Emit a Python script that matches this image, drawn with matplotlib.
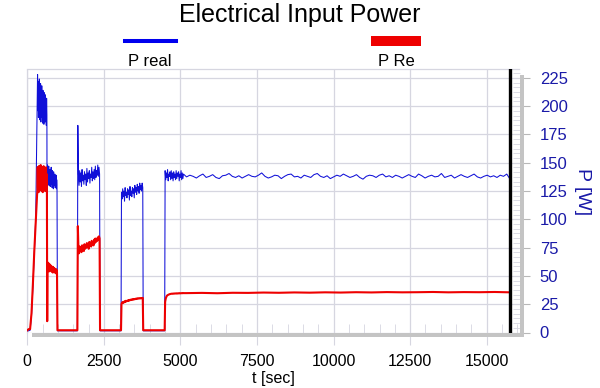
import numpy as np
import matplotlib.pyplot as plt
from matplotlib.ticker import MultipleLocator
from matplotlib.patches import Rectangle
from matplotlib.lines import Line2D

plt.rcParams['font.family'] = ['Liberation Sans', 'DejaVu Sans']

# values, one list per test phase
# P real (blue)
real_start = [1.5, 1.5, 2, 15, 40, 70, 100, 200]
real_a = [228, 196, 222, 190, 218, 200, 224, 188, 215, 195, 220, 186, 212, 198, 218, 190,
          210, 185, 214, 196, 208, 184, 212, 192, 206, 186, 210, 190, 204, 183, 207, 192]
real_b = [148, 131, 142, 134, 147, 130, 140, 136, 144, 129, 141, 133, 146, 131, 139, 128,
          143, 132, 138, 127, 142, 130, 137, 134, 140, 128, 136, 131, 139, 127, 135, 130]
real_c = [183, 140, 130, 143, 133, 141, 129, 144, 134, 139, 131, 142, 135, 140, 130, 145,
          133, 141, 136, 143, 132, 140, 137, 146, 134, 142, 136, 144, 135, 147, 137, 143,
          139, 148, 138, 146, 140]
real_d = [124, 118, 127, 120, 125, 116, 128, 121, 124, 119, 127, 122, 126, 117, 129, 121,
          125, 120, 128, 123, 127, 119, 130, 124, 128, 122, 131, 125, 129, 123, 132, 126,
          130, 125, 132, 128]
real_e = [143, 135, 141, 137, 144, 134, 140, 138, 142, 135, 143, 136, 141, 134, 142, 137,
          140, 135, 143, 136, 141, 138, 142, 134, 140, 137, 143, 135, 141, 136, 140]
real_tail = [137.5, 139, 138, 136.5, 138.5, 140, 137, 138, 139.5, 137, 136, 138.5, 139, 140.5,
             138, 137, 138.5, 136.5, 138, 139.5, 138, 137.5, 139, 141, 138, 136.5, 137.5, 139,
             138.5, 136, 138, 139.5, 140, 137.5, 138, 136.5, 139, 138, 137, 139.5, 140.5, 138,
             137, 138.5, 136, 137.5, 139, 138, 140, 138.5, 137, 138, 139.5, 137, 135.5, 138,
             139, 138.5, 137, 139, 140, 137.5, 138.5, 137, 139, 138, 136.5, 138, 139.5, 138,
             137, 140, 138.5, 136.5, 138, 139, 137.5, 138, 140.5, 137, 138, 139, 136.5, 138,
             139.5, 138, 137, 138.5, 140, 137.5, 136.5, 138, 139, 137.5, 138.5, 137, 139, 138,
             140, 135.5]
real_off = [1.5, 1.5]

# P Re (red)
re_start = [2, 3, 3, 17, 43, 72, 98, 122]
re_a = [125, 146, 128, 143, 124, 147, 130, 141, 126, 145, 129, 148, 127, 142, 125, 146, 131,
        140, 124, 144, 128, 147, 126, 141, 130, 145, 125, 143, 129, 146, 127, 140, 132]
re_b = [62, 55, 60, 57, 61, 54, 59, 56, 60, 55, 58, 57, 59, 54, 58, 55,
        57, 53, 58, 55, 56, 54, 57, 53, 56, 54, 55, 53, 56, 52, 55, 53]
re_c = [94, 74, 70, 76, 72, 75, 71, 77, 73, 76, 72, 78, 74, 77, 75, 79, 76, 78, 74,
        80, 77, 79, 76, 81, 78, 80, 77, 82, 79, 83, 80, 82, 81, 84, 82, 85, 83]
re_d = [25, 26.5, 26, 27, 26.5, 27.5, 27, 28, 27.5, 28, 27.8, 28.5, 28, 28.8, 28.5, 29,
        28.7, 29.2, 29, 29.5, 29.2, 29.6, 29.4, 29.8, 29.6, 30, 29.8, 30.2, 30, 30.3,
        30.1, 30.4, 30.2, 30.5, 30.3, 30.6]
re_e = [27, 30, 31.5, 32.5, 33, 33.3, 33.6, 33.8, 34, 34.1, 34.2, 34.3, 34.2, 34.4, 34.3,
        34.5, 34.4, 34.5, 34.6, 34.4, 34.6, 34.5, 34.7, 34.6, 34.8, 34.6, 34.7, 34.8,
        34.7, 34.9, 34.8]
re_tail = [34.8, 35.0, 34.7, 35.1, 35.0, 35.3, 35.1, 35.4, 35.2, 35.5, 35.3, 35.6, 35.4,
           35.7, 35.5, 35.6, 35.8, 35.5, 35.7, 35.6, 35.8, 35.5]
re_off = [2.0, 2.0]

dip = [10]
t_stop = 15762

# time span of each phase [sec]
real_parts = [(0, 320, real_start), (335, 640, real_a), (650, 650, dip), (660, 970, real_b),
              (985, 1635, real_off), (1650, 2360, real_c), (2375, 3060, real_off),
              (3075, 3770, real_d), (3785, 4485, real_off), (4500, 5100, real_e),
              (5200, t_stop, real_tail)]
re_parts = [(0, 320, re_start), (330, 640, re_a), (650, 650, dip), (660, 970, re_b),
            (985, 1635, re_off), (1650, 2360, re_c), (2375, 3060, re_off),
            (3075, 3770, re_d), (3785, 4485, re_off), (4500, 5100, re_e),
            (5200, t_stop, re_tail)]


def build(parts):
    t = np.concatenate([np.linspace(a, b, len(v)) for a, b, v in parts])
    p = np.concatenate([np.array(v, dtype=float) for a, b, v in parts])
    return t, p


t_real, p_real = build(real_parts)
t_re, p_re = build(re_parts)

W, H = 600, 388
fig = plt.figure(figsize=(6, 3.88), dpi=100)
ax = fig.add_axes([27.3 / W, 1 - 332.5 / H, 492.2 / W, 263 / H])

grid_c = '#d6d6e0'
ax.plot(t_real, p_real, color='#1010d8', lw=0.75, zorder=3)
ax.plot(t_re, p_re, color='#ee0000', lw=1.5, zorder=4)
ax.axvline(t_stop, color='black', lw=2.4, zorder=5)

ax.set_xlim(0, 16071)
ax.set_ylim(0, 232.4)
ax.xaxis.set_major_locator(MultipleLocator(2500))
ax.xaxis.set_minor_locator(MultipleLocator(500))
ax.yaxis.set_major_locator(MultipleLocator(25))
ax.yaxis.set_minor_locator(MultipleLocator(25 / 6))
ax.yaxis.tick_right()
ax.yaxis.set_label_position('right')
ax.grid(True, which='major', color=grid_c, lw=0.9, zorder=0)

for s in ['bottom', 'right']:
    ax.spines[s].set_visible(False)
for s in ['top', 'left']:
    ax.spines[s].set_color(grid_c)
    ax.spines[s].set_linewidth(0.9)

ax.tick_params(axis='x', which='major', direction='out', length=8.6, color=grid_c,
               labelsize=11.5, pad=7)
ax.tick_params(axis='x', which='minor', direction='in', length=6.5, color=grid_c)
ax.tick_params(axis='y', which='major', direction='out', length=7.5, color='#b8b8b8',
               labelsize=12, labelcolor='#1a1aa8', pad=7, right=True, left=False)
ax.tick_params(axis='y', which='minor', direction='in', length=5, color=grid_c,
               right=True, left=False)

ax.set_ylabel('P [W]', fontsize=14, color='#1a1aa8', rotation=270, va='center')
ax.yaxis.set_label_coords(1.129, 0.534)
fig.text(273.4 / W, 1 - 378.5 / H, 't [sec]', ha='center', va='center', fontsize=11.5)

# drop shadow of the plot frame
shadow = '#c4c4c4'
fig.add_artist(Rectangle((32 / W, 1 - 336.7 / H), 491.5 / W, 4.2 / H,
                         transform=fig.transFigure, color=shadow, lw=0))
fig.add_artist(Rectangle((519.5 / W, 1 - 336.7 / H), 4 / W, 261.7 / H,
                         transform=fig.transFigure, color=shadow, lw=0))

fig.text(0.5, 1 - 15 / H, 'Electrical Input Power', ha='center', va='center', fontsize=18)

# legend
fig.add_artist(Line2D([125 / W, 176 / W], [1 - 41 / H] * 2, color='#0000ee', lw=2.9,
                      transform=fig.transFigure))
fig.add_artist(Rectangle((371 / W, 1 - 46 / H), 50 / W, 10 / H, color='#ee0000', lw=0,
                         transform=fig.transFigure))
fig.text(150 / W, 1 - 61 / H, 'P real', ha='center', va='center', fontsize=12)
fig.text(396.5 / W, 1 - 61 / H, 'P Re', ha='center', va='center', fontsize=12)

fig.savefig('out.png', dpi=100)
